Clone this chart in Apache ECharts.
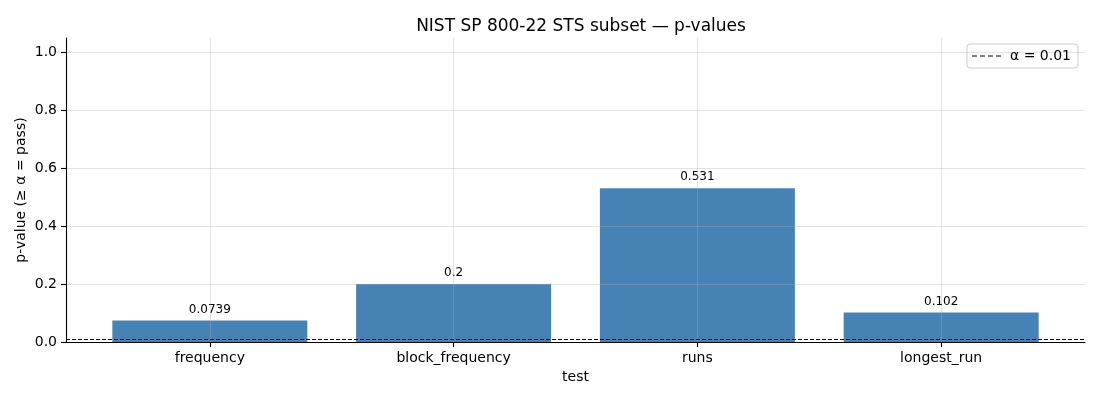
<!DOCTYPE html>
<html>
<head>
<meta charset="utf-8">
<script src="https://cdn.jsdelivr.net/npm/echarts@6/dist/echarts.min.js"></script>
<style>
  html, body { margin: 0; padding: 0; background: #fff; }
  #chart { width: 1100px; height: 400px; }
</style>
</head>
<body>
<div id="chart"></div>
<script>
// data
const categories = ['frequency', 'block_frequency', 'runs', 'longest_run'];
const pValues = [0.0739, 0.2, 0.531, 0.102];
const alpha = 0.01;
const yTicks = [0, 0.2, 0.4, 0.6, 0.8, 1.0];
const catTicks = categories.map((c, i) => i);

const font = 'DejaVu Sans';
const gridColor = 'rgba(176,176,176,0.35)';
// four dashes, like the matplotlib legend handle
const dashIcon = 'path://M0,0H5V1H0Z M8,0H13V1H8Z M16,0H21V1H16Z M24,0H29V1H24Z';

let chart = echarts.init(document.getElementById('chart'));
chart.setOption({
    animation: false,
    textStyle: { fontFamily: font },
    title: {
        text: 'NIST SP 800-22 STS subset \u2014 p-values',
        left: 576, top: 13, textAlign: 'center',
        textStyle: { fontFamily: font, fontSize: 17, fontWeight: 'normal', color: '#000' }
    },
    legend: {
        right: 22, top: 44,
        data: [{ name: '\u03b1 = 0.01', icon: dashIcon, itemStyle: { color: '#000' } }],
        itemWidth: 29, itemHeight: 1.8, itemGap: 6,
        padding: [5, 7, 5, 5],
        borderColor: '#cccccc', borderWidth: 1, borderRadius: 3,
        textStyle: { fontFamily: font, fontSize: 14, color: '#000', padding: [0, 0, 0, 4] }
    },
    grid: { left: 66, right: 15, top: 38, bottom: 58 },
    xAxis: {
        type: 'value', min: -0.59, max: 3.59, z: 4,
        name: 'test', nameLocation: 'middle', nameGap: 28,
        nameTextStyle: { fontFamily: font, fontSize: 14, color: '#000' },
        axisLine: { show: true, onZero: false, lineStyle: { color: '#000', width: 1.1 } },
        axisTick: { show: true, length: 5, customValues: catTicks, lineStyle: { color: '#000', width: 1.1 } },
        axisLabel: {
            customValues: catTicks, margin: 9,
            fontFamily: font, fontSize: 14, color: '#000',
            formatter: v => categories[Math.round(v)] || ''
        },
        splitLine: { show: true, lineStyle: { color: gridColor, width: 1 } }
    },
    yAxis: {
        type: 'value', min: 0, max: 1.05, z: 4,
        name: 'p-value (\u2265 \u03b1 = pass)', nameLocation: 'middle', nameGap: 38,
        nameMoveOverlap: false,
        nameTextStyle: { fontFamily: font, fontSize: 14, color: '#000' },
        axisLine: { show: true, onZero: false, lineStyle: { color: '#000', width: 1.1 } },
        axisTick: { show: true, length: 5, customValues: yTicks, lineStyle: { color: '#000', width: 1.1 } },
        axisLabel: {
            customValues: yTicks, margin: 9,
            fontFamily: font, fontSize: 14, color: '#000',
            formatter: v => v.toFixed(1)
        },
        splitLine: { show: true, lineStyle: { color: gridColor, width: 1 } }
    },
    series: [{
        type: 'bar',
        barWidth: 195,
        z: 2,
        itemStyle: { color: '#4682b4' },
        label: {
            show: true, position: 'top', distance: 5,
            fontFamily: font, fontSize: 12, color: '#000',
            formatter: p => String(p.value[1])
        },
        data: pValues.map((v, i) => [i, v])
    }, {
        type: 'line',
        name: '\u03b1 = 0.01',
        z: 5,
        symbol: 'none',
        data: [],
        itemStyle: { color: '#000' },
        lineStyle: { color: '#000', width: 1.2, type: [4, 2] },
        markLine: {
            silent: true, symbol: 'none', label: { show: false },
            lineStyle: { color: '#000', width: 1.2, type: [4, 2] },
            data: [{ yAxis: alpha }]
        }
    }]
});
</script>
</body>
</html>
